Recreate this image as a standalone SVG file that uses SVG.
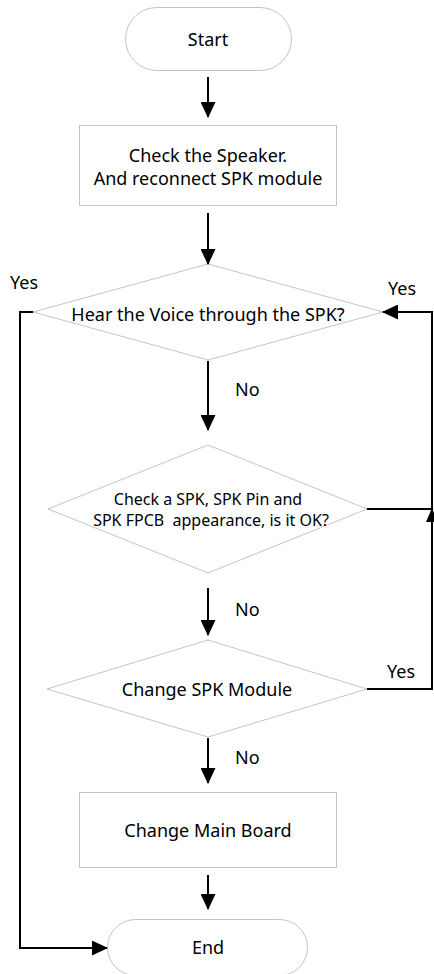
<svg xmlns="http://www.w3.org/2000/svg" width="434" height="974" viewBox="0 0 434 974">
<style>
.shape{fill:#fff;stroke:#c4c4c4;stroke-width:1}
.t{font-family:"Noto Sans","Open Sans",sans-serif;font-size:18px;fill:#000;text-anchor:middle}
.s{font-size:16px;white-space:pre}
.lbl{font-family:"Noto Sans","Open Sans",sans-serif;font-size:18px;fill:#000}
.c{fill:none;stroke:#000;stroke-width:2}
</style>
<defs>
<marker id="ah" markerUnits="userSpaceOnUse" markerWidth="16" markerHeight="15" refX="15" refY="7.5" orient="auto">
<path d="M0,0 L16,7.5 L0,15 z" fill="#000"/>
</marker>
<marker id="ahs" markerUnits="userSpaceOnUse" markerWidth="14" markerHeight="12" refX="13" refY="6" orient="auto">
<path d="M0,0 L14,6 L0,12 z" fill="#000"/>
</marker>
</defs>
<rect width="434" height="974" fill="#fff"/>
<g id="start">
<rect class="shape" x="125.5" y="7.5" width="166" height="63" rx="31.5"/>
<text class="t" x="208" y="46">Start</text>
</g>
<g id="check-speaker">
<rect class="shape" x="79.5" y="125.5" width="257" height="80"/>
<text class="t" x="208" y="162">Check the Speaker.</text>
<text class="t" x="208" y="185">And reconnect SPK module</text>
</g>
<g id="hear-voice">
<polygon class="shape" points="208,264 383,312 208,360 33,312"/>
<text class="t" x="208" y="321">Hear the Voice through the SPK?</text>
</g>
<g id="check-appearance">
<polygon class="shape" points="208,445 367,509 208,573 48,509"/>
<text class="t s" x="208" y="505">Check a SPK, SPK Pin and</text>
<text class="t s" x="211" y="526">SPK FPCB  appearance, is it OK?</text>
</g>
<g id="change-spk">
<polygon class="shape" points="208,640 367,689 208,737 47,689"/>
<text class="t" x="207" y="696">Change SPK Module</text>
</g>
<g id="change-main">
<rect class="shape" x="79.5" y="792.5" width="257" height="75"/>
<text class="t" x="208" y="837">Change Main Board</text>
</g>
<g id="end">
<rect class="shape" x="107.5" y="919.5" width="200" height="56" rx="28"/>
<text class="t" x="208" y="954">End</text>
</g>
<g id="connectors">
<line class="c" x1="208" y1="77" x2="208" y2="117" marker-end="url(#ah)"/>
<line class="c" x1="208" y1="213" x2="208" y2="264" marker-end="url(#ah)"/>
<line class="c" x1="208" y1="361" x2="208" y2="430" marker-end="url(#ah)"/>
<line class="c" x1="208" y1="588" x2="208" y2="635" marker-end="url(#ah)"/>
<line class="c" x1="208" y1="738" x2="208" y2="783" marker-end="url(#ah)"/>
<line class="c" x1="208" y1="875" x2="208" y2="909" marker-end="url(#ah)"/>
<polyline class="c" points="33,312 20,312 20,948 107,948" marker-end="url(#ah)"/>
<polyline class="c" points="367,689 432,689 432,509" marker-end="url(#ahs)"/>
<polyline class="c" points="432,509 432,312 383,312" marker-end="url(#ah)"/>
<line class="c" x1="367" y1="509" x2="432" y2="509"/>
<text class="lbl" x="10" y="289">Yes</text>
<text class="lbl" x="388" y="295">Yes</text>
<text class="lbl" x="235" y="396">No</text>
<text class="lbl" x="235" y="616">No</text>
<text class="lbl" x="387" y="678">Yes</text>
<text class="lbl" x="235" y="764">No</text>
</g>
</svg>
